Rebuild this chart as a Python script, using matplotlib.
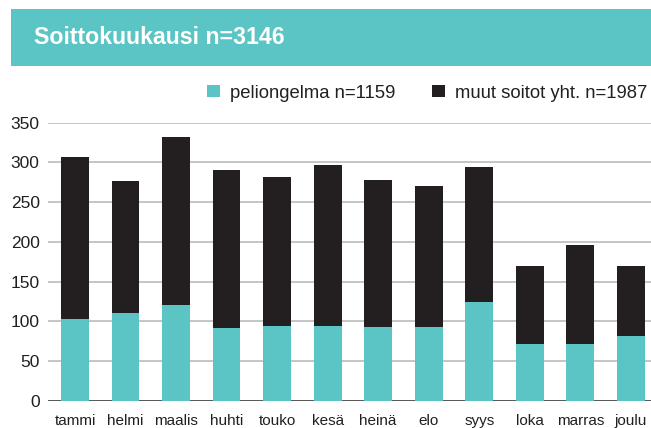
import matplotlib
matplotlib.use("Agg")
import matplotlib.pyplot as plt
from matplotlib.patches import Patch, Rectangle
import numpy as np

plt.rcParams["font.family"] = ["Liberation Sans", "DejaVu Sans"]

MONTHS = ["tammi", "helmi", "maalis", "huhti", "touko", "kesä",
          "heinä", "elo", "syys", "loka", "marras", "joulu"]
PELI   = [103, 110, 120, 92, 94, 94, 93, 93, 124, 71, 71, 82]
TOTAL  = [307, 277, 332, 290, 282, 297, 278, 270, 294, 170, 196, 170]
MUUT   = [t - p for t, p in zip(TOTAL, PELI)]

TITLE = "Soittokuukausi n=3146"
LABEL_PELI = "peliongelma n=1159"
LABEL_MUUT = "muut soitot yht. n=1987"

TEAL  = "#5bc4c5"
BLACK = "#231f20"
TEXT  = "#231f20"

W, H = 651, 428
fig = plt.figure(figsize=(W / 100, H / 100), dpi=100)

# header band
fig.patches.append(Rectangle((11 / W, 1 - 66 / H), 1 - 11 / W, 57 / H,
                             transform=fig.transFigure, facecolor=TEAL,
                             edgecolor="none", zorder=0))
fig.text(34 / W, 1 - 37 / H, TITLE, color="white", fontsize=16.7,
         fontweight="bold", ha="left", va="center")

ax = fig.add_axes([48 / W, 1 - 400.7 / H, 1 - 48 / W, (400.7 - 122.7) / H])
x = np.arange(len(MONTHS))
ax.bar(x, PELI, width=0.55, color=TEAL, zorder=3)
ax.bar(x, MUUT, bottom=PELI, width=0.55, color=BLACK, zorder=3)

ax.set_ylim(0, 350)
ax.set_xlim(-0.535, 11.4)
ax.set_yticks(np.arange(0, 351, 50))
ax.set_xticks(x)
ax.set_xticklabels(MONTHS)
for s in ax.spines.values():
    s.set_visible(False)
ax.yaxis.grid(True, color="#b5b5b5", linewidth=1.1, zorder=1)
ax.set_axisbelow(True)
ax.axhline(0, color="#3a3a3a", linewidth=1.1, zorder=2)
ax.tick_params(axis="both", length=0, colors=TEXT)
ax.tick_params(axis="y", labelsize=12.5, pad=6)
ax.tick_params(axis="x", labelsize=11, pad=9.5)

handles = [Patch(facecolor=TEAL, label=LABEL_PELI),
           Patch(facecolor=BLACK, label=LABEL_MUUT)]
fig.legend(handles=handles, loc="center right", ncol=2, frameon=False,
           bbox_to_anchor=(647 / W, 1 - 93 / H), fontsize=13.3,
           handlelength=0.68, handleheight=0.68, handletextpad=0.55,
           columnspacing=2.0, borderaxespad=0, borderpad=0,
           labelcolor=TEXT)

fig.savefig("out.png", dpi=100)
